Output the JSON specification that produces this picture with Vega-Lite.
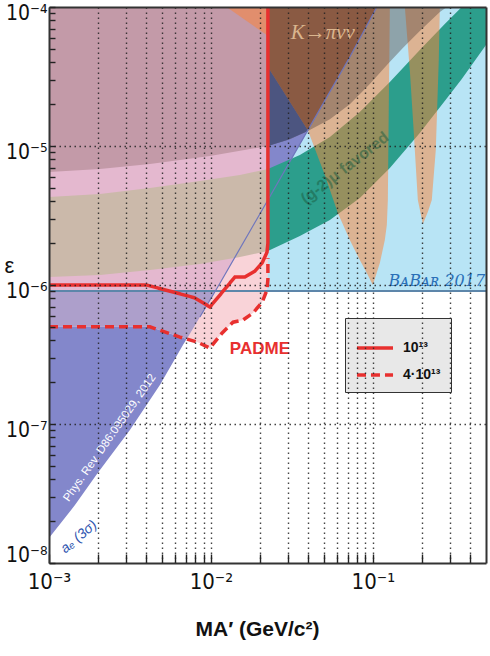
{
  "$schema": "https://vega.github.io/schema/vega-lite/v6.json",
  "width": 437,
  "height": 556,
  "autosize": {"type": "none"},
  "padding": {"left": 49, "top": 7, "right": 4, "bottom": 93},
  "background": "white",
  "view": {"stroke": null},
  "datasets": {
    "babar": [{"m": 0.001, "lo": 9.05e-7, "hi": 1e-4}, {"m": 0.5, "lo": 9.05e-7, "hi": 1e-4}],
    "ae": [
      {"m": 0.001, "lo": 1.51e-8, "hi": 1e-4},
      {"m": 0.001447, "lo": 2.61e-8, "hi": 1e-4},
      {"m": 0.001978, "lo": 4.37e-8, "hi": 1e-4},
      {"m": 0.00316, "lo": 9.06e-8, "hi": 1e-4},
      {"m": 0.00484, "lo": 1.91e-7, "hi": 1e-4},
      {"m": 0.00672, "lo": 3.70e-7, "hi": 1e-4},
      {"m": 0.00855, "lo": 5.89e-7, "hi": 1e-4},
      {"m": 0.01137, "lo": 1.03e-6, "hi": 1e-4},
      {"m": 0.02249, "lo": 4.09e-6, "hi": 1e-4},
      {"m": 0.0397, "lo": 1.30e-5, "hi": 1e-4},
      {"m": 0.0721, "lo": 4.37e-5, "hi": 1e-4},
      {"m": 0.1059, "lo": 1e-4, "hi": 1e-4}
    ],
    "aeline": [
      {"m": 0.00855, "lo": 5.89e-7},
      {"m": 0.01137, "lo": 1.03e-6},
      {"m": 0.02249, "lo": 4.09e-6},
      {"m": 0.0397, "lo": 1.30e-5},
      {"m": 0.0721, "lo": 4.37e-5},
      {"m": 0.1059, "lo": 1e-4}
    ],
    "g2": [
      {"m": 0.001, "lo": 1.142e-6, "hi": 4.30e-6},
      {"m": 0.002065, "lo": 1.18e-6, "hi": 4.52e-6},
      {"m": 0.0042, "lo": 1.282e-6, "hi": 4.99e-6},
      {"m": 0.00855, "lo": 1.416e-6, "hi": 5.60e-6},
      {"m": 0.0151, "lo": 1.590e-6, "hi": 6.19e-6},
      {"m": 0.02249, "lo": 1.756e-6, "hi": 6.83e-6},
      {"m": 0.03543, "lo": 2.25e-6, "hi": 8.61e-6},
      {"m": 0.0543, "lo": 2.935e-6, "hi": 1.161e-5},
      {"m": 0.0831, "lo": 4.23e-6, "hi": 1.756e-5},
      {"m": 0.1274, "lo": 6.94e-6, "hi": 2.887e-5},
      {"m": 0.195, "lo": 1.24e-5, "hi": 4.90e-5},
      {"m": 0.2782, "lo": 2.107e-5, "hi": 7.55e-5},
      {"m": 0.3543, "lo": 3.03e-5, "hi": 1e-4},
      {"m": 0.5, "lo": 5.33e-5, "hi": 1e-4}
    ],
    "g2left": [
      {"m": 0.001, "lo": 1.142e-6, "hi": 4.30e-6},
      {"m": 0.002065, "lo": 1.18e-6, "hi": 4.52e-6},
      {"m": 0.0042, "lo": 1.282e-6, "hi": 4.99e-6},
      {"m": 0.00855, "lo": 1.416e-6, "hi": 5.60e-6},
      {"m": 0.0151, "lo": 1.590e-6, "hi": 6.19e-6},
      {"m": 0.02249, "lo": 1.756e-6, "hi": 6.83e-6}
    ],
    "lightpink": [
      {"m": 0.001, "lo": 5.0e-7, "hi": 1e-4},
      {"m": 0.0042, "lo": 5.0e-7, "hi": 1e-4},
      {"m": 0.00644, "lo": 4.22e-7, "hi": 1e-4},
      {"m": 0.0082, "lo": 3.89e-7, "hi": 1e-4},
      {"m": 0.00986, "lo": 3.52e-7, "hi": 1e-4},
      {"m": 0.0117, "lo": 4.5e-7, "hi": 1e-4},
      {"m": 0.0137, "lo": 5.4e-7, "hi": 1e-4},
      {"m": 0.0158, "lo": 5.6e-7, "hi": 1e-4},
      {"m": 0.0182, "lo": 6.3e-7, "hi": 1e-4},
      {"m": 0.0207, "lo": 7.5e-7, "hi": 1e-4},
      {"m": 0.0222, "lo": 9.2e-7, "hi": 1e-4},
      {"m": 0.02249, "lo": 1.0e-6, "hi": 1e-4}
    ],
    "pink": [
      {"m": 0.001, "lo": 9.05e-7, "hi": 1e-4},
      {"m": 0.01059, "lo": 9.05e-7, "hi": 1e-4},
      {"m": 0.01137, "lo": 1.03e-6, "hi": 1e-4},
      {"m": 0.02249, "lo": 4.09e-6, "hi": 1e-4}
    ],
    "purplepink": [
      {"m": 0.001, "lo": 5.0e-7, "hi": 9.05e-7},
      {"m": 0.0042, "lo": 5.0e-7, "hi": 9.05e-7},
      {"m": 0.00644, "lo": 4.22e-7, "hi": 9.05e-7},
      {"m": 0.00711, "lo": 4.1e-7, "hi": 9.05e-7},
      {"m": 0.00855, "lo": 5.89e-7, "hi": 9.05e-7},
      {"m": 0.01059, "lo": 9.05e-7, "hi": 9.05e-7}
    ],
    "mauve": [
      {"m": 0.001, "lo": 6.5e-6, "hi": 1e-4},
      {"m": 0.002065, "lo": 6.83e-6, "hi": 1e-4},
      {"m": 0.0042, "lo": 7.42e-6, "hi": 1e-4},
      {"m": 0.00986, "lo": 8.47e-6, "hi": 1e-4},
      {"m": 0.02249, "lo": 1e-5, "hi": 1e-4}
    ],
    "spike1": [
      {"m": 0.0125, "lo": 1e-4, "hi": 1e-4},
      {"m": 0.02249, "lo": 6.2e-5, "hi": 1e-4},
      {"m": 0.0226, "lo": 3.70e-5, "hi": 1e-4},
      {"m": 0.0397, "lo": 1.30e-5, "hi": 1e-4},
      {"m": 0.0505, "lo": 6.19e-6, "hi": 1e-4},
      {"m": 0.0608, "lo": 3.30e-6, "hi": 1e-4},
      {"m": 0.0721, "lo": 2.11e-6, "hi": 1e-4},
      {"m": 0.0831, "lo": 1.51e-6, "hi": 1e-4},
      {"m": 0.0918, "lo": 1.22e-6, "hi": 1e-4},
      {"m": 0.1, "lo": 1.0e-6, "hi": 1e-4},
      {"m": 0.1105, "lo": 1.44e-6, "hi": 1e-4},
      {"m": 0.1186, "lo": 2.11e-6, "hi": 1e-4},
      {"m": 0.122, "lo": 2.70e-6, "hi": 1e-4},
      {"m": 0.1238, "lo": 4.09e-6, "hi": 1e-4},
      {"m": 0.1256, "lo": 2.14e-5, "hi": 1e-4},
      {"m": 0.1274, "lo": 1e-4, "hi": 1e-4}
    ],
    "spike2": [
      {"m": 0.1577, "lo": 1e-4, "hi": 1e-4},
      {"m": 0.1692, "lo": 3.52e-5, "hi": 1e-4},
      {"m": 0.1791, "lo": 1.24e-5, "hi": 1e-4},
      {"m": 0.1897, "lo": 4.09e-6, "hi": 1e-4},
      {"m": 0.2037, "lo": 2.75e-6, "hi": 1e-4},
      {"m": 0.2186, "lo": 3.35e-6, "hi": 1e-4},
      {"m": 0.2313, "lo": 4.09e-6, "hi": 1e-4},
      {"m": 0.2448, "lo": 9.36e-6, "hi": 1e-4},
      {"m": 0.2555, "lo": 4.16e-5, "hi": 1e-4},
      {"m": 0.2594, "lo": 1e-4, "hi": 1e-4}
    ],
    "amu": [
      {"m": 0.02249, "lo": 1e-5, "hi": 1e-4},
      {"m": 0.03076, "lo": 1.12e-5, "hi": 1e-4},
      {"m": 0.0397, "lo": 1.28e-5, "hi": 1e-4},
      {"m": 0.0543, "lo": 1.56e-5, "hi": 1e-4},
      {"m": 0.0721, "lo": 2.0e-5, "hi": 1e-4},
      {"m": 0.0958, "lo": 2.79e-5, "hi": 1e-4},
      {"m": 0.1238, "lo": 3.89e-5, "hi": 1e-4},
      {"m": 0.1532, "lo": 5.07e-5, "hi": 1e-4},
      {"m": 0.195, "lo": 6.72e-5, "hi": 1e-4},
      {"m": 0.2594, "lo": 9.2e-5, "hi": 1e-4},
      {"m": 0.2864, "lo": 1e-4, "hi": 1e-4}
    ],
    "navy": [
      {"m": 0.02249, "lo": 1e-5, "hi": 3.7e-5},
      {"m": 0.02987, "lo": 1.11e-5, "hi": 2.196e-5},
      {"m": 0.0397, "lo": 1.28e-5, "hi": 1.30e-5}
    ],
    "vdark": [
      {"m": 0.02249, "lo": 3.70e-5, "hi": 1e-4},
      {"m": 0.0397, "lo": 1.30e-5, "hi": 1e-4},
      {"m": 0.0721, "lo": 4.37e-5, "hi": 1e-4},
      {"m": 0.1059, "lo": 1e-4, "hi": 1e-4}
    ],
    "padme": [
      {"s": "10¹³", "o": 1, "m": 0.001, "lo": 1e-6},
      {"s": "10¹³", "o": 2, "m": 0.004, "lo": 1e-6},
      {"s": "10¹³", "o": 3, "m": 0.00616, "lo": 8.76e-7},
      {"s": "10¹³", "o": 4, "m": 0.0079, "lo": 8.1e-7},
      {"s": "10¹³", "o": 5, "m": 0.00986, "lo": 6.95e-7},
      {"s": "10¹³", "o": 6, "m": 0.01406, "lo": 1.14e-6},
      {"s": "10¹³", "o": 7, "m": 0.0162, "lo": 1.14e-6},
      {"s": "10¹³", "o": 8, "m": 0.0187, "lo": 1.26e-6},
      {"s": "10¹³", "o": 9, "m": 0.0207, "lo": 1.44e-6},
      {"s": "10¹³", "o": 10, "m": 0.0222, "lo": 1.72e-6},
      {"s": "10¹³", "o": 11, "m": 0.02249, "lo": 2.0e-6},
      {"s": "10¹³", "o": 12, "m": 0.02249, "lo": 1e-4},
      {"s": "4·10¹³", "o": 1, "m": 0.001, "lo": 5e-7},
      {"s": "4·10¹³", "o": 2, "m": 0.0042, "lo": 5e-7},
      {"s": "4·10¹³", "o": 3, "m": 0.00644, "lo": 4.22e-7},
      {"s": "4·10¹³", "o": 4, "m": 0.0082, "lo": 3.89e-7},
      {"s": "4·10¹³", "o": 5, "m": 0.00986, "lo": 3.52e-7},
      {"s": "4·10¹³", "o": 6, "m": 0.0117, "lo": 4.5e-7},
      {"s": "4·10¹³", "o": 7, "m": 0.0137, "lo": 5.4e-7},
      {"s": "4·10¹³", "o": 8, "m": 0.0158, "lo": 5.6e-7},
      {"s": "4·10¹³", "o": 9, "m": 0.0182, "lo": 6.3e-7},
      {"s": "4·10¹³", "o": 10, "m": 0.0207, "lo": 7.5e-7},
      {"s": "4·10¹³", "o": 11, "m": 0.0222, "lo": 9.2e-7},
      {"s": "4·10¹³", "o": 12, "m": 0.02249, "lo": 1.1e-6},
      {"s": "4·10¹³", "o": 13, "m": 0.02249, "lo": 1.56e-6}
    ]
  },
  "resolve": {"axis": {"x": "independent", "y": "independent"}},
  "encoding": {
    "x": {"field": "m", "type": "quantitative", "scale": {"type": "log", "domain": [0.001, 0.5], "nice": false}, "axis": null},
    "y": {"field": "lo", "type": "quantitative", "scale": {"type": "log", "domain": [1e-8, 1e-4], "nice": false}, "axis": null}
  },
  "layer": [
    {
      "data": {"name": "babar"},
      "mark": {"type": "area", "color": "#b8e4f5", "opacity": 1},
      "encoding": {
        "x": {"field": "m", "type": "quantitative", "scale": {"type": "log", "domain": [0.001, 0.5], "nice": false},
          "axis": {
            "orient": "bottom", "zindex": 1,
            "values": [0.001, 0.002, 0.003, 0.004, 0.005, 0.006, 0.007, 0.008, 0.009, 0.01, 0.02, 0.03, 0.04, 0.05, 0.06, 0.07, 0.08, 0.09, 0.1, 0.2, 0.3, 0.4],
            "labelExpr": "datum.value == 0.001 ? '10⁻³' : datum.value == 0.01 ? '10⁻²' : datum.value == 0.1 ? '10⁻¹' : ''",
            "labelFont": "Liberation Sans Narrow, DejaVu Sans Condensed, Liberation Sans", "labelFontSize": 22, "labelFontWeight": "normal", "labelColor": "#111",
            "labelBaseline": "top", "labelPadding": 17, "labelOverlap": false, "labelFlush": false, "labelBound": false,
            "grid": true, "gridColor": "#222", "gridDash": [1.5, 3.5], "gridWidth": 1.4,
            "gridOpacity": {"condition": {"test": "datum.value == 0.001", "value": 0}, "value": 0.85},
            "ticks": true, "tickColor": "#222", "tickWidth": 1.4,
            "tickSize": -9,
            "domain": true, "domainColor": "#333", "domainWidth": 2,
            "title": "MA′ (GeV/c²)", "titleFont": "Liberation Sans", "titleFontSize": 21, "titleFontWeight": "bold", "titleColor": "#111",
            "titleX": 208, "titleY": 66, "titleBaseline": "middle", "titleAlign": "center"
          }},
        "y": {"field": "lo", "type": "quantitative", "scale": {"type": "log", "domain": [1e-8, 1e-4], "nice": false},
          "axis": {
            "orient": "left", "zindex": 1,
            "values": [1e-8, 2e-8, 3e-8, 4e-8, 5e-8, 6e-8, 7e-8, 8e-8, 9e-8, 1e-7, 2e-7, 3e-7, 4e-7, 5e-7, 6e-7, 7e-7, 8e-7, 9e-7, 1e-6, 2e-6, 3e-6, 4e-6, 5e-6, 6e-6, 7e-6, 8e-6, 9e-6, 1e-5, 2e-5, 3e-5, 4e-5, 5e-5, 6e-5, 7e-5, 8e-5, 9e-5, 1e-4],
            "labelExpr": "datum.value == 1e-8 ? '10⁻⁸' : datum.value == 1e-7 ? '10⁻⁷' : datum.value == 1e-6 ? '10⁻⁶' : datum.value == 1e-5 ? '10⁻⁵' : datum.value == 1e-4 ? '10⁻⁴' : ''",
            "labelFont": "Liberation Sans Narrow, DejaVu Sans Condensed, Liberation Sans", "labelFontSize": 21, "labelFontWeight": "normal", "labelColor": "#111",
            "labelAlign": "right", "labelBaseline": "middle", "labelPadding": 8, "labelOverlap": false, "labelFlush": false, "labelBound": false,
            "labelOffset": {"condition": {"test": "datum.value == 1e-8", "value": -8}, "value": 6},
            "grid": true, "gridColor": "#222", "gridDash": [1.5, 3.5], "gridWidth": 1.4,
            "gridOpacity": {"condition": {"test": "datum.value == 1e-7 || datum.value == 1e-6 || datum.value == 1e-5", "value": 0.85}, "value": 0},
            "ticks": true, "tickColor": "#222", "tickWidth": 1.4,
            "tickSize": -6,
            "domain": true, "domainColor": "#333", "domainWidth": 2,
            "title": "ε", "titleFont": "Liberation Sans", "titleFontSize": 22, "titleColor": "#111", "titleFontWeight": "normal",
            "titleAngle": 0, "titleX": -40, "titleY": 258, "titleBaseline": "middle", "titleAlign": "center"
          }},
        "y2": {"field": "hi"}
      }
    },
    {"data": {"name": "ae"}, "mark": {"type": "area", "color": "#8387cb"}, "encoding": {"y2": {"field": "hi"}}},
    {"data": {"name": "g2"}, "mark": {"type": "area", "color": "#2c9e8c"}, "encoding": {"y2": {"field": "hi"}}},
    {"data": {"name": "lightpink"}, "mark": {"type": "area", "color": "#f9d3d8"}, "encoding": {"y2": {"field": "hi"}}},
    {"data": {"name": "pink"}, "mark": {"type": "area", "color": "#e4b8cf"}, "encoding": {"y2": {"field": "hi"}}},
    {"data": {"name": "purplepink"}, "mark": {"type": "area", "color": "#ad9fcb"}, "encoding": {"y2": {"field": "hi"}}},
    {"data": {"name": "mauve"}, "mark": {"type": "area", "color": "#c39aa8"}, "encoding": {"y2": {"field": "hi"}}},
    {"data": {"name": "g2left"}, "mark": {"type": "area", "color": "#cbb9aa"}, "encoding": {"y2": {"field": "hi"}}},
    {"data": {"name": "spike1"}, "mark": {"type": "area", "color": "#ff8232", "opacity": 0.5}, "encoding": {"y2": {"field": "hi"}}},
    {"data": {"name": "spike2"}, "mark": {"type": "area", "color": "#ff8232", "opacity": 0.5}, "encoding": {"y2": {"field": "hi"}}},
    {"data": {"name": "amu"}, "mark": {"type": "area", "color": "#50403a", "opacity": 0.4}, "encoding": {"y2": {"field": "hi"}}},
    {"data": {"name": "navy"}, "mark": {"type": "area", "color": "#4c5580"}, "encoding": {"y2": {"field": "hi"}}},
    {"data": {"name": "vdark"}, "mark": {"type": "area", "color": "#8a5a43"}, "encoding": {"y2": {"field": "hi"}}},
    {
      "data": {"name": "babar"},
      "mark": {"type": "line", "color": "#5d86aa", "strokeWidth": 2},
      "encoding": {
        "x": {"field": "m", "type": "quantitative", "scale": {"type": "log", "domain": [0.001, 0.5], "nice": false},
          "axis": {"orient": "top", "zindex": 1, "labels": false, "ticks": false, "grid": false, "domain": true, "domainColor": "#333", "domainWidth": 2, "title": null}},
        "y": {"field": "lo", "type": "quantitative", "scale": {"type": "log", "domain": [1e-8, 1e-4], "nice": false},
          "axis": {"orient": "right", "zindex": 1, "labels": false, "ticks": false, "grid": false, "domain": true, "domainColor": "#333", "domainWidth": 2, "title": null}}
      }
    },
    {"data": {"name": "aeline"}, "mark": {"type": "line", "color": "#6f76bd", "strokeWidth": 1.2}, "encoding": {}},
    {
      "data": {"name": "padme"},
      "mark": {"type": "line", "color": "#e8302f", "strokeWidth": 3.5},
      "encoding": {
        "order": {"field": "o", "type": "quantitative"},
        "strokeDash": {"field": "s", "type": "nominal",
          "scale": {"domain": ["10¹³", "4·10¹³"], "range": [[1, 0], [9, 5]]},
          "legend": {"title": null, "orient": "none", "legendX": 296, "legendY": 311,
            "symbolType": "stroke", "symbolSize": 1300, "symbolStrokeWidth": 3.5, "symbolStrokeColor": "#e8302f",
            "labelFont": "Liberation Sans", "labelFontSize": 14, "labelFontWeight": "bold", "labelColor": "#111",
            "fillColor": "#e8e8e8", "strokeColor": "#333", "padding": 10, "rowPadding": 0, "labelOffset": 8}}
      }
    },
    {"data": {"values": [{"m": 0.0491, "lo": 6.5e-5, "t": "K→πνν"}]},
     "mark": {"type": "text", "font": "Liberation Serif", "fontStyle": "italic", "fontSize": 21, "color": "#dab58e"},
     "encoding": {"text": {"field": "t"}}},
    {"data": {"values": [{"m": 0.0672, "lo": 6.94e-6, "t": "(g-2)μ favored"}]},
     "mark": {"type": "text", "font": "Liberation Sans", "fontWeight": "bold", "fontSize": 16, "angle": -38, "color": "#1b5c40", "opacity": 0.5},
     "encoding": {"text": {"field": "t"}}},
    {"data": {"values": [{"m": 0.2483, "lo": 1.07e-6, "t": "BᴀBᴀʀ 2017"}]},
     "mark": {"type": "text", "font": "DejaVu Serif", "fontStyle": "italic", "fontSize": 16, "color": "#2a70b8"},
     "encoding": {"text": {"field": "t"}}},
    {"data": {"values": [{"m": 0.02007, "lo": 3.46e-7, "t": "PADME"}]},
     "mark": {"type": "text", "font": "Liberation Sans", "fontWeight": "bold", "fontSize": 17, "color": "#e8302f"},
     "encoding": {"text": {"field": "t"}}},
    {"data": {"values": [{"m": 0.00238, "lo": 7.93e-8, "t": "Phys. Rev. D86:095029, 2012"}]},
     "mark": {"type": "text", "font": "Liberation Sans", "fontSize": 11.5, "angle": -55, "color": "white"},
     "encoding": {"text": {"field": "t"}}},
    {"data": {"values": [{"m": 0.001532, "lo": 1.54e-8, "t": "aₑ (3σ)"}]},
     "mark": {"type": "text", "font": "Liberation Sans", "fontStyle": "italic", "fontSize": 14, "angle": -40, "color": "#2f56b0"},
     "encoding": {"text": {"field": "t"}}}
  ]
}
